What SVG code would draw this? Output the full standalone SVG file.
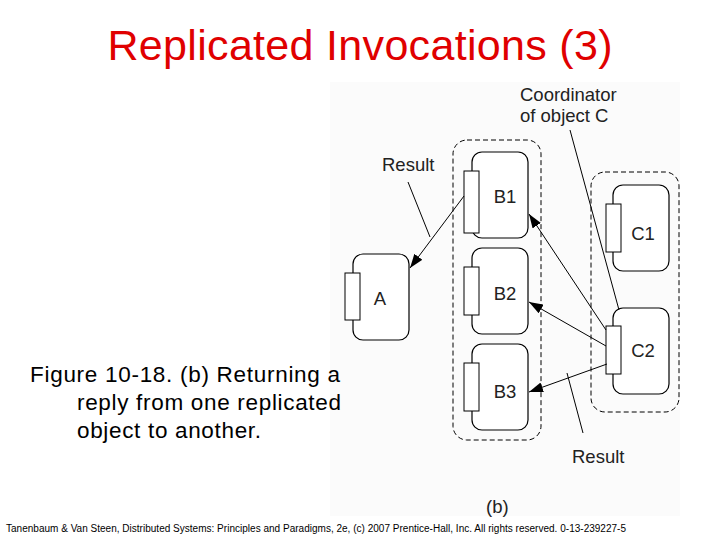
<svg xmlns="http://www.w3.org/2000/svg" width="720" height="540" viewBox="0 0 720 540">
<defs>
<marker id="ah" viewBox="0 0 14 10" refX="14" refY="5" markerWidth="14" markerHeight="10" markerUnits="userSpaceOnUse" orient="auto"><path d="M0,0 L14,5 L0,10 z" fill="#000"/></marker>
</defs>
<style>
.box{fill:#fff;stroke:#000;stroke-width:1.2}
.port{fill:#fff;stroke:#000;stroke-width:1}
.grp{fill:none;stroke:#000;stroke-width:1;stroke-dasharray:5,3}
.lbl{font-family:"Liberation Sans",Arial,sans-serif;font-size:18.5px;fill:#222}
.ln{stroke:#000;stroke-width:1;fill:none}
.cap{font-family:"Liberation Sans",Arial,sans-serif;font-size:22.5px;fill:#000}
</style>
<rect width="720" height="540" fill="#fff"/>
<text x="360" y="60" text-anchor="middle" font-family="Liberation Sans,Arial,sans-serif" font-size="43" fill="#e00000" textLength="505">Replicated Invocations (3)</text>
<rect x="330" y="82" width="350" height="434" fill="#fbfbfb"/>
<g id="groupB"><rect class="grp" x="453" y="140" width="88" height="300" rx="14"/></g>
<g id="groupC"><rect class="grp" x="591" y="172" width="88" height="240" rx="14"/></g>
<g id="A"><rect class="box" x="353" y="254" width="56" height="86" rx="10"/><rect class="port" x="345" y="273" width="15" height="47"/><text class="lbl" x="380" y="305" text-anchor="middle">A</text></g>
<g id="B1"><rect class="box" x="472" y="152" width="56" height="86" rx="10"/><rect class="port" x="464" y="171" width="15" height="62"/><text class="lbl" x="505" y="203" text-anchor="middle">B1</text></g>
<g id="B2"><rect class="box" x="472" y="248" width="56" height="86" rx="10"/><rect class="port" x="464" y="267" width="15" height="48"/><text class="lbl" x="505" y="300" text-anchor="middle">B2</text></g>
<g id="B3"><rect class="box" x="472" y="344" width="56" height="86" rx="10"/><rect class="port" x="464" y="363" width="15" height="48"/><text class="lbl" x="505" y="398" text-anchor="middle">B3</text></g>
<g id="C1"><rect class="box" x="613" y="185" width="56" height="86" rx="10"/><rect class="port" x="606" y="204" width="15" height="48"/><text class="lbl" x="643" y="240" text-anchor="middle">C1</text></g>
<g id="C2"><rect class="box" x="613" y="308" width="56" height="86" rx="10"/><rect class="port" x="606" y="326" width="15" height="48"/><text class="lbl" x="643" y="357" text-anchor="middle">C2</text></g>
<g id="connectors">
<line class="ln" x1="464" y1="196" x2="410" y2="268" marker-end="url(#ah)"/>
<line class="ln" x1="606" y1="330" x2="529" y2="214" marker-end="url(#ah)"/>
<line class="ln" x1="606" y1="346" x2="529" y2="302" marker-end="url(#ah)"/>
<line class="ln" x1="607" y1="364" x2="529" y2="392" marker-end="url(#ah)"/>
<line class="ln" x1="408" y1="182" x2="430" y2="237"/>
<line class="ln" x1="570" y1="130" x2="619" y2="310"/>
<line class="ln" x1="583" y1="433" x2="567" y2="373"/>
</g>
<text class="lbl" x="520" y="101">Coordinator</text>
<text class="lbl" x="520" y="122">of object C</text>
<text class="lbl" x="382" y="171">Result</text>
<text class="lbl" x="572" y="463">Result</text>
<text class="lbl" x="486" y="513">(b)</text>
<text class="cap" x="30" y="382" textLength="310">Figure 10-18. (b) Returning a</text>
<text class="cap" x="77" y="410" textLength="264">reply from one replicated</text>
<text class="cap" x="77" y="438" textLength="184">object to another.</text>
<text x="6" y="532" font-family="Liberation Sans,Arial,sans-serif" font-size="10" fill="#000" textLength="620">Tanenbaum &amp; Van Steen, Distributed Systems: Principles and Paradigms, 2e, (c) 2007 Prentice-Hall, Inc. All rights reserved. 0-13-239227-5</text>
</svg>
